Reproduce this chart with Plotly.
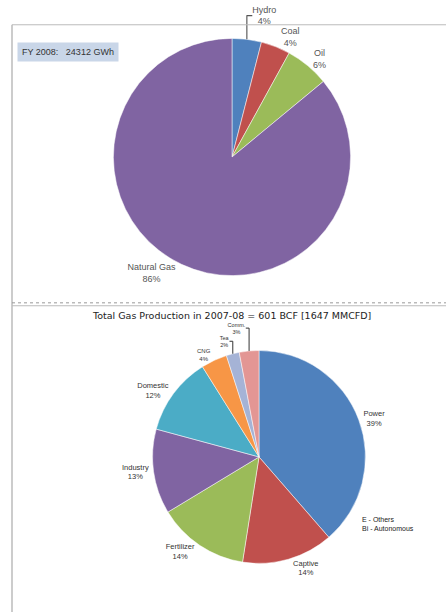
import plotly.graph_objects as go

W, H = 446, 612

# Top chart data (FY 2008 generation mix)
top_labels = ["Hydro", "Coal", "Oil", "Natural Gas"]
top_values = [4, 4, 6, 86]
top_colors = ["#4F81BD", "#C0504D", "#9BBB59", "#8064A2"]

# Bottom chart data (gas use by sector, 2007-08)
bot_labels = ["Power", "Captive", "Fertilizer", "Industry", "Domestic", "CNG", "Tea", "Comm."]
bot_values = [39, 14, 14, 13, 12, 4, 2, 3]
bot_colors = ["#4F81BD", "#C0504D", "#9BBB59", "#8064A2", "#4BACC6", "#F79646", "#A5B3D6", "#E39694"]
bot_font_sizes = [7.5, 7.5, 7.5, 7.5, 7.5, 6, 5.5, 5.5]

def px_x(x):
    return x / W

def px_y(y):
    return 1 - y / H

fig = go.Figure()

fig.add_trace(go.Pie(
    labels=top_labels, values=top_values,
    marker=dict(colors=top_colors, line=dict(color="white", width=0.5)),
    sort=False, direction="clockwise", rotation=0,
    textposition="outside", texttemplate="%{label}<br>%{value}%",
    textfont=dict(size=9, color="#555", family="Liberation Sans"),
    domain=dict(x=[px_x(110), px_x(354)], y=[px_y(266), px_y(22)]),
    showlegend=False, hoverinfo="label+value",
))

fig.add_trace(go.Pie(
    labels=bot_labels, values=bot_values,
    marker=dict(colors=bot_colors, line=dict(color="white", width=0.5)),
    sort=False, direction="clockwise", rotation=0,
    textposition="outside", texttemplate="%{label}<br>%{value}%",
    textfont=dict(size=bot_font_sizes, color="#333", family="Liberation Sans"),
    domain=dict(x=[px_x(152), px_x(366)], y=[px_y(562), px_y(343)]),
    showlegend=False, hoverinfo="label+value",
))

shapes = [
    # left border
    dict(type="line", xref="paper", yref="paper", x0=px_x(12), x1=px_x(12), y0=0, y1=px_y(8),
         line=dict(color="#999", width=1)),
    # top border
    dict(type="line", xref="paper", yref="paper", x0=px_x(12), x1=1, y0=px_y(8), y1=px_y(8),
         line=dict(color="#bbb", width=1)),
    # divider
    dict(type="line", xref="paper", yref="paper", x0=px_x(12), x1=1, y0=px_y(294), y1=px_y(294),
         line=dict(color="#999", width=1, dash="dot")),
    dict(type="line", xref="paper", yref="paper", x0=px_x(12), x1=1, y0=px_y(297), y1=px_y(297),
         line=dict(color="#bbb", width=1)),
]

annotations = [
    dict(text="FY 2008:   24312 GWh", xref="paper", yref="paper", x=px_x(17), y=px_y(36),
         xanchor="left", yanchor="middle", showarrow=False,
         font=dict(size=9, color="#333", family="Liberation Sans"),
         bgcolor="#C9D6E8", borderpad=4),
    dict(text="Total Gas Production in 2007-08 = 601 BCF [1647 MMCFD]", xref="paper", yref="paper",
         x=px_x(232), y=px_y(307), xanchor="center", yanchor="middle", showarrow=False,
         font=dict(size=9.5, color="#222", family="DejaVu Sans")),
    dict(text="E - Others<br>Bi - Autonomous", xref="paper", yref="paper", x=px_x(360), y=px_y(521),
         xanchor="left", yanchor="middle", showarrow=False, align="left",
         font=dict(size=7, color="#222", family="Liberation Sans")),
]

fig.update_layout(
    width=W, height=H, margin=dict(l=0, r=0, t=0, b=0),
    paper_bgcolor="white", plot_bgcolor="white",
    shapes=shapes, annotations=annotations,
)

fig.write_html("out.html")
